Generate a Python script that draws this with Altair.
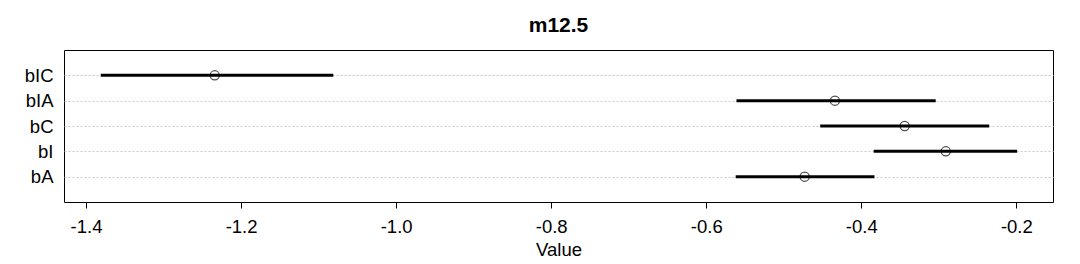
import altair as alt
import pandas as pd

params = ["bIC", "bIA", "bC", "bI", "bA"]
means = [-1.234, -0.434, -0.344, -0.291, -0.473]
lowers = [-1.381, -0.561, -0.453, -0.384, -0.562]
uppers = [-1.081, -0.304, -0.235, -0.199, -0.383]
x_ticks = [-1.4, -1.2, -1.0, -0.8, -0.6, -0.4, -0.2]

df = pd.DataFrame({"param": params, "mean": means, "lo": lowers, "hi": uppers})

FONT = "Liberation Sans"

x_scale = alt.Scale(domain=[-1.4284, -0.1527], nice=False, zero=False)
y_enc = alt.Y(
    "param:N",
    sort=params,
    scale=alt.Scale(type="point", padding=1),
    axis=alt.Axis(
        title=None,
        ticks=False,
        domain=False,
        grid=True,
        gridDash=[2, 2],
        gridColor="#c8c8c8",
        gridWidth=1,
        labelFont=FONT,
        labelFontSize=18.5,
        labelColor="black",
        labelPadding=11,
    ),
)

x_axis = alt.Axis(
    title="Value",
    values=x_ticks,
    labelExpr="replace(format(datum.value, '.1f'), '\u2212', '-')",
    grid=False,
    domain=False,
    ticks=True,
    tickSize=6,
    tickColor="black",
    labelFont=FONT,
    labelFontSize=18.5,
    labelColor="black",
    labelPadding=9,
    titleFont=FONT,
    titleFontSize=18.5,
    titleFontWeight="normal",
    titleColor="black",
    titlePadding=5,
)

rules = alt.Chart(df).mark_rule(color="black", strokeWidth=3).encode(
    x=alt.X("lo:Q", scale=x_scale, axis=x_axis),
    x2="hi:Q",
    y=y_enc,
)

points = alt.Chart(df).mark_point(
    shape="circle", filled=False, color="black", size=85, strokeWidth=1.2
).encode(
    x=alt.X("mean:Q", scale=x_scale),
    y=alt.Y("param:N", sort=params),
)

chart = (
    alt.layer(rules, points)
    .properties(
        width=989,
        height=152,
        title=alt.TitleParams(
            "m12.5", font=FONT, fontSize=21, fontWeight="bold", color="black",
            anchor="middle", offset=14,
        ),
        autosize=alt.AutoSizeParams(type="none"),
        padding={"left": 64, "top": 50, "right": 27, "bottom": 62},
        background="white",
    )
    .configure_view(stroke="black", strokeWidth=1)
)

chart.save("out.html", embed_options={"renderer": "svg", "actions": False})
